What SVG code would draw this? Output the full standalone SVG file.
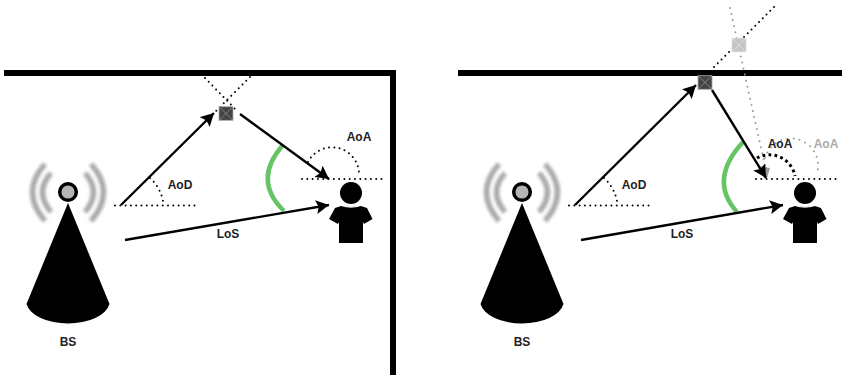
<svg xmlns="http://www.w3.org/2000/svg" width="842" height="375" viewBox="0 0 842 375">
<style>
text{font-family:"Liberation Sans",Arial,sans-serif;font-size:12px;font-weight:bold;fill:#222;text-anchor:middle}
.ar{fill:none;stroke:#000;stroke-width:2.4}
.dot{fill:none;stroke:#000;stroke-width:2;stroke-linecap:round;stroke-dasharray:0 5.3}
.ghostdot{fill:none;stroke:#999;stroke-width:2;stroke-linecap:round;stroke-dasharray:0 6.2}
.bold{fill:none;stroke:#000;stroke-width:3;stroke-dasharray:2.8 3.2}
.green{fill:none;stroke:#66c466;stroke-width:4.5}
.wave{fill:none;stroke:#aaa;stroke-width:5.5}
</style>
<defs>
<filter id="b" x="-50%" y="-20%" width="200%" height="140%"><feGaussianBlur stdDeviation="1.500"/></filter>
<marker id="ah" markerUnits="userSpaceOnUse" markerWidth="16" markerHeight="15" refX="13" refY="7" orient="auto"><path d="M0 0L13 7L0 14L2.500 7Z" fill="#000"/></marker>
<g id="bsShape">
<g filter="url(#b)">
<path class="wave" d="M45 164Q20 192 45 221"/><path class="wave" d="M51 173Q34 192 51 212"/>
<path class="wave" d="M91 164Q116 192 91 221"/><path class="wave" d="M85 173Q102 192 85 212"/>
</g>
<path d="M68 203L26.500 304A42 23 0 0 0 109.500 304Z" fill="#000"/>
<circle cx="68" cy="192" r="8.300" fill="#b5b5b5" stroke="#000" stroke-width="3.500"/>
</g>
<g id="personShape">
<circle cx="351" cy="193" r="11" fill="#000"/>
<path d="M341 206Q351 209 361 206L367 208L372.500 219L364 224L363 222V243H339V222L338 224L329 219L335 208Z" fill="#000"/>
<path d="M346 205.500Q351 209 356 205.500" fill="none" stroke="#ccc" stroke-width="0.800"/>
</g>
<g id="risShape">
<rect x="-7" y="-6.800" width="14" height="13.600" fill="#444" stroke="#aaa" stroke-width="0.800"/>
<path d="M-7 -6.800L7 6.800M-7 6.800L7 -6.800" stroke="#999" stroke-width="0.700"/>
</g>
<g id="risGhost">
<rect x="-7" y="-6.800" width="14" height="13.600" fill="#c4c4c4" stroke="#ddd" stroke-width="0.800"/>
<path d="M-7 -6.800L7 6.800M-7 6.800L7 -6.800" stroke="#e8e8e8" stroke-width="0.700"/>
</g>
</defs>

<g id="walls">
<path d="M4 70H396V375H390V76H4Z" fill="#000"/>
<rect x="458" y="70" width="384" height="6" fill="#000"/>
</g>

<g id="connectors">
<path class="green" d="M283 145Q252 180 284 211"/>
<path class="green" d="M743 142Q708 180 737 212"/>
<path class="dot" d="M115 205.500H197"/>
<path class="dot" d="M150 178A42 42 0 0 1 163 201"/>
<path class="dot" d="M205 78L238 112"/>
<path class="dot" d="M250 77L216 111"/>
<path class="dot" d="M302 179H383"/>
<path class="dot" d="M308 162A27 27 0 0 1 359 173"/>
<path class="ar" marker-end="url(#ah)" d="M121 205L214 113"/>
<path class="ar" marker-end="url(#ah)" d="M240 114L329 179"/>
<path class="ar" marker-end="url(#ah)" d="M125 240L329 205"/>

<path class="dot" d="M569 205.500H651"/>
<path class="dot" d="M604 178A42 42 0 0 1 617 201"/>
<path class="dot" d="M774 7L714 67"/>
<path class="ghostdot" d="M730 8L767 175"/>
<path class="dot" d="M756 179H836"/>
<path class="ghostdot" d="M765 158A27 27 0 0 1 817 173"/>
<path class="bold" d="M757 158A26 26 0 0 1 795 176"/>
<path class="ar" marker-end="url(#ah)" d="M575 205L696 85"/>
<path d="M770 168L760 166L767 178Z" fill="#999"/>
<path class="ar" marker-end="url(#ah)" d="M712 90L766 178"/>
<path class="ar" marker-end="url(#ah)" d="M581 240L783 205"/>
</g>

<g id="bs-left"><use href="#bsShape"/><text x="68" y="346">BS</text></g>
<g id="bs-right"><use href="#bsShape" x="454"/><text x="522" y="346">BS</text></g>
<g id="user-left"><use href="#personShape"/></g>
<g id="user-right"><use href="#personShape" x="454"/></g>
<g id="ris-left"><use href="#risShape" x="226" y="113.500"/></g>
<g id="ris-right"><use href="#risShape" x="705" y="82.500"/></g>
<g id="ris-ghost"><use href="#risGhost" x="739" y="45"/></g>
<g id="labels">
<text x="180" y="189">AoD</text>
<text x="359" y="141">AoA</text>
<text x="228" y="238">LoS</text>
<text x="634" y="189">AoD</text>
<text x="780" y="148">AoA</text>
<text x="826" y="148" style="fill:#aaa">AoA</text>
<text x="682" y="238">LoS</text>
</g>
</svg>
